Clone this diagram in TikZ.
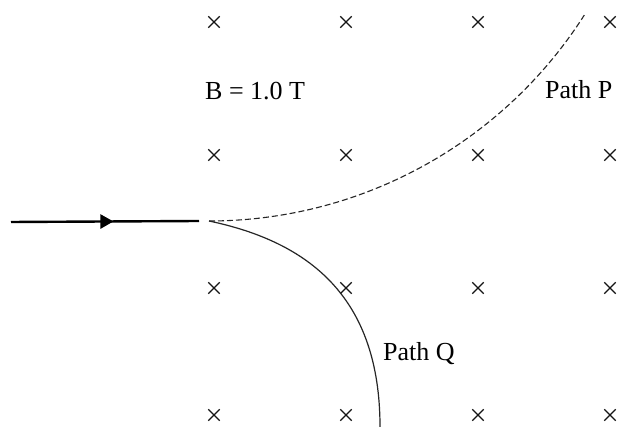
\documentclass[tikz,border=0pt]{standalone}
\usepackage{fontspec}
\setmainfont{Liberation Serif}
\usetikzlibrary{shapes.misc,arrows.meta,decorations.markings}
\begin{document}
\begin{tikzpicture}[x=1pt,y=1pt,
  fieldx/.style={cross out,draw=black!92,line width=1.3pt,minimum size=10pt,inner sep=0pt},
  lbl/.style={anchor=base west,inner sep=0pt,font=\fontsize{26}{31}\selectfont},
  beam/.style={line width=2.4pt,postaction={decorate},
    decoration={markings,mark=at position 0.545 with {\arrow{Triangle[length=13pt,width=14pt]}}}},
  pathp/.style={line width=1.1pt,dash pattern=on 6pt off 3pt,draw=black!85},
  pathq/.style={line width=1.2pt,draw=black!85}]
\useasboundingbox (0,0) rectangle (618,430);
\fill[white] (0,0) rectangle (618,430);
% field crosses
\foreach \i/\x in {1/214,2/346,3/478,4/610}{
  \foreach \j/\y in {1/408,2/275,3/142,4/15}{
    \node[fieldx] (x\i\j) at (\x,\y) {};
  }
}
% labels
\node[lbl] (blabel) at (205,330) {B = 1.0 T};
\node[lbl] (plabel) at (545,331) {Path P};
\node[lbl] (qlabel) at (383,69) {Path Q};
% incoming particle
\coordinate (start) at (11,208);
\coordinate (entry) at (199,209);
\coordinate (o) at (209,209);
\draw[beam] (start) -- (entry);
% path P (dashed, curving up)
\draw[pathp] (o) arc[start angle=270,end angle=327.5,radius=445] coordinate (pend);
% path Q (solid, curving down)
\coordinate (qend) at (380,3);
\draw[pathq] (o) .. controls (309,188) and (380,133) .. (qend);
\end{tikzpicture}
\end{document}
